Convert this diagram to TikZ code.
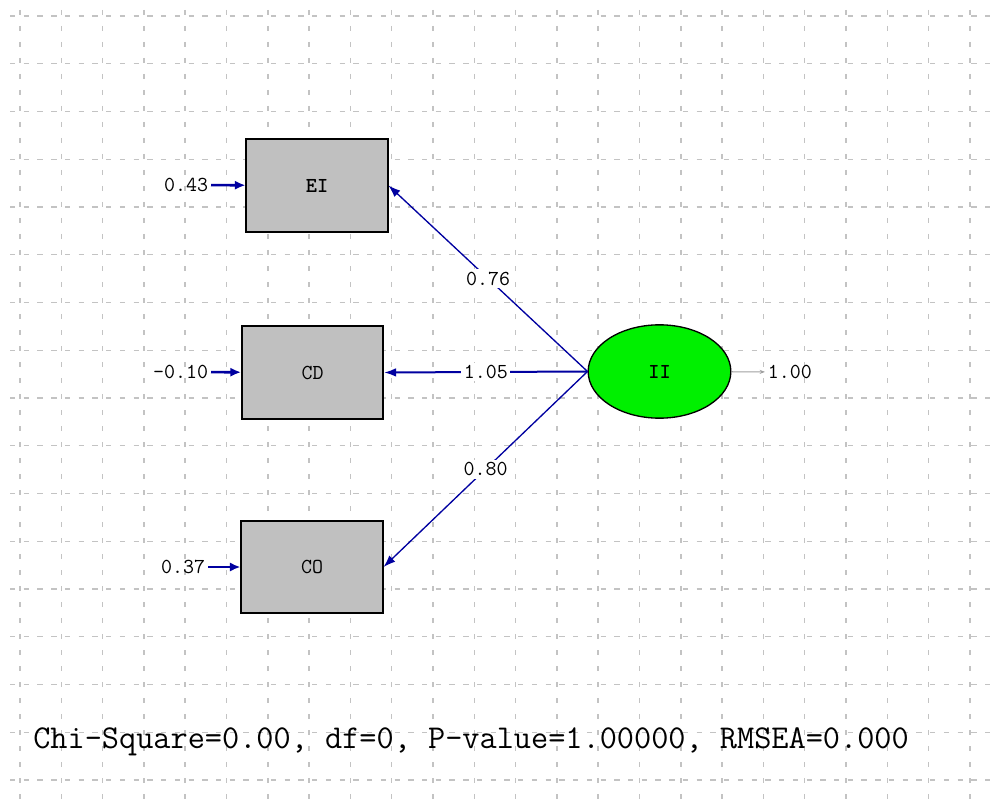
\documentclass[tikz,border=0pt]{standalone}
\usepackage{fontspec}
\usepackage{tikz}
\usetikzlibrary{arrows.meta,shapes.geometric}
\definecolor{pathblue}{RGB}{0,0,160}
\definecolor{gridgray}{RGB}{195,195,195}
\definecolor{boxgray}{RGB}{192,192,192}
\definecolor{latentgreen}{RGB}{0,240,0}
\definecolor{varline}{RGB}{160,160,160}

\begin{document}
\begin{tikzpicture}[x=0.75pt,y=0.75pt,
	obsbox/.style={draw=black,line width=1.3pt,fill=boxgray,minimum width=106pt,minimum height=69.5pt,inner sep=0pt,font=\ttfamily\fontsize{16}{16}\selectfont},
	latent/.style={ellipse,draw=black,line width=1pt,fill=latentgreen,minimum width=107pt,minimum height=70pt,inner sep=0pt,font=\ttfamily\fontsize{16}{16}\selectfont},
	coef/.style={font=\ttfamily\fontsize{16}{16}\selectfont,inner sep=2pt,text=black},
	pathlbl/.style={coef,fill=white},
	gridh/.style={gridgray,line width=1.1pt,dash pattern=on 4pt off 6.3pt},
	gridv/.style={gridgray,line width=1.1pt,dash pattern=on 3.5pt off 8.5pt},
	loading/.style={pathblue,line width=1pt,-{Latex[length=9pt,width=6.5pt]}},
	errarrow/.style={pathblue,line width=2pt,-{Latex[length=8pt,width=7pt]}},
	vararrow/.style={varline,line width=0.8pt,-{Stealth[length=4pt,width=3pt]}}]
			\useasboundingbox (0,0) rectangle (995,-802);
			\fill [white] (0,0) rectangle (995,-802);
			\foreach \k in {0,...,23}
				\draw [gridv] ({20+41.3*\k},-10) -- ({20+41.3*\k},-802);
			\foreach \k in {0,...,16}
				\draw [gridh] (10,{-16-47.75*\k}) -- (995,{-16-47.75*\k});
			\node [obsbox] (EI) at (317,-185.5) {\bfseries EI};
			\node [obsbox] (CD) at (312.5,-372.5) {CD};
			\node [obsbox] (CO) at (312,-567) {CO};
			\node [latent] (II) at (659.5,-371.5) {\bfseries II};
			\node [coef,anchor=east] (eEI) at (211,-185) {0.43};
			\node [coef,anchor=east] (eCD) at (211,-372) {-0.10};
			\node [coef,anchor=east] (eCO) at (208,-567) {0.37};
			\node [coef,anchor=west] (vII) at (765,-372) {1.00};
			\draw [errarrow] (eEI) -- (EI);
			\draw [errarrow] (eCD) -- (CD);
			\draw [errarrow] (eCO) -- (CO);
			\draw [vararrow] (II) -- (vII);
			\draw [loading] (II.west) -- node [pathlbl] {0.76} (EI.east);
			\draw [loading,line width=1.5pt] (II.west) -- node [pathlbl] {1.05} (CD.east);
			\draw [loading] (II.west) -- node [pathlbl] {0.80} (CO.east);
			\node [font=\ttfamily\fontsize{25}{25}\selectfont,inner sep=0pt] (fit) at (471,-742) {Chi-Square=0.00, df=0, P-value=1.00000, RMSEA=0.000};
		\end{tikzpicture}
\end{document}
